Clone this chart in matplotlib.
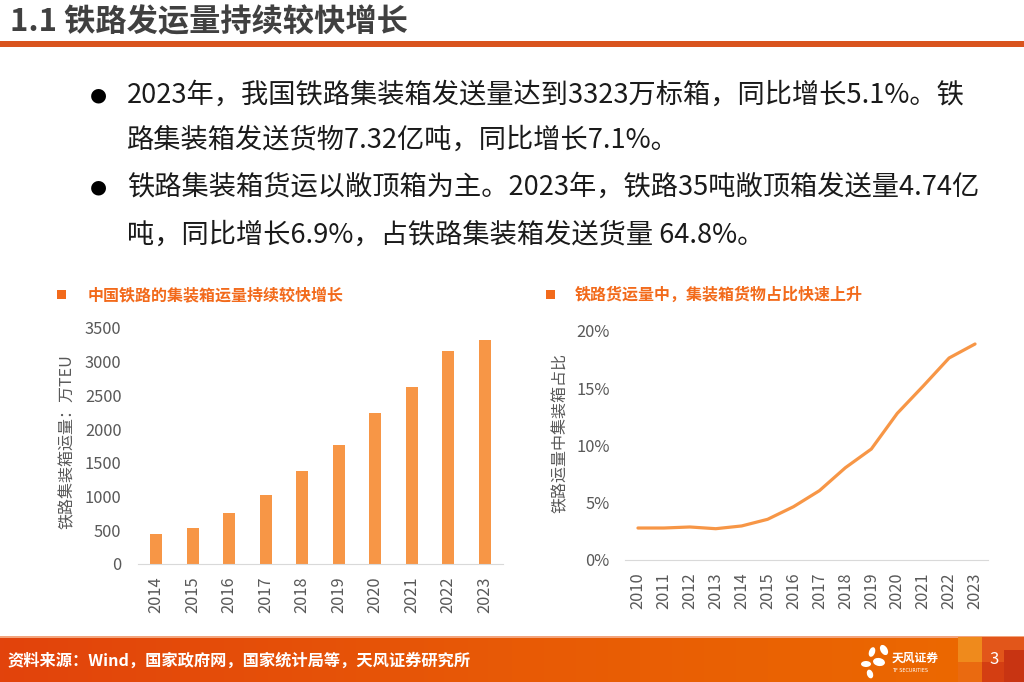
import numpy as np
import matplotlib
matplotlib.use("Agg")
import matplotlib.pyplot as plt
from matplotlib.patches import Rectangle, Ellipse
from matplotlib.colors import LinearSegmentedColormap

plt.rcParams['font.family'] = ['Noto Sans CJK SC', 'DejaVu Sans']

# data
bar_years = ['2014', '2015', '2016', '2017', '2018', '2019', '2020', '2021', '2022', '2023']
teu = [441, 530, 752, 1020, 1376, 1767, 2242, 2628, 3163, 3323]

line_years = ['2010', '2011', '2012', '2013', '2014', '2015', '2016',
              '2017', '2018', '2019', '2020', '2021', '2022', '2023']
share = [2.79, 2.79, 2.88, 2.73, 2.97, 3.55, 4.65, 6.05, 8.05, 9.68, 12.79, 15.17, 17.62, 18.84]

page_title = '1.1 铁路发运量持续较快增长'
bullets = [
    ['2023年，我国铁路集装箱发送量达到3323万标箱，同比增长5.1%。铁',
     '路集装箱发送货物7.32亿吨，同比增长7.1%。'],
    ['铁路集装箱货运以敞顶箱为主。2023年，铁路35吨敞顶箱发送量4.74亿',
     '吨，同比增长6.9%，占铁路集装箱发送货量 64.8%。'],
]
chart1_title = '中国铁路的集装箱运量持续较快增长'
chart2_title = '铁路货运量中，集装箱货物占比快速上升'
chart1_ylabel = '铁路集装箱运量：万TEU'
chart2_ylabel = '铁路运量中集装箱占比'
source = '资料来源：Wind，国家政府网，国家统计局等，天风证券研究所'

W, H = 1024, 682
ORANGE = '#F79646'
TITLE_ORANGE = '#F26A1B'
GREY = '#595959'

fig = plt.figure(figsize=(W / 100, H / 100), dpi=100)

def box(l, t, r, b):
    return [l / W, 1 - b / H, (r - l) / W, (b - t) / H]

# background layer in pixel coords
bg = fig.add_axes([0, 0, 1, 1], zorder=0)
bg.set_xlim(0, W)
bg.set_ylim(H, 0)
bg.axis('off')

bg.text(10, 22, page_title, fontsize=22.5, fontweight='bold', color='#404040',
        va='center', ha='left')
bg.add_patch(Rectangle((0, 41), W, 5.5, color='#D9541E', lw=0))

line_y = [95, 140, 187, 235]
k = 0
for para in bullets:
    bg.text(98, line_y[k], '●', fontsize=14, color='black', va='center', ha='center',
            family=['DejaVu Sans'])
    for ln in para:
        bg.text(127, line_y[k], ln, fontsize=19.6, color='#1a1a1a', va='center', ha='left')
        k += 1

# chart titles
bg.add_patch(Rectangle((57, 290), 9, 9, color=TITLE_ORANGE, lw=0))
bg.text(88, 295, chart1_title, fontsize=11.5, color=TITLE_ORANGE, va='center', ha='left',
        fontweight='bold')
bg.add_patch(Rectangle((546, 290), 9, 9, color=TITLE_ORANGE, lw=0))
bg.text(575, 295, chart2_title, fontsize=11.5, color=TITLE_ORANGE, va='center', ha='left',
        fontweight='bold')

bg.text(67, 442, chart1_ylabel, fontsize=11.5, color=GREY, rotation=90,
        va='center', ha='center')
bg.text(560, 433, chart2_ylabel, fontsize=11.5, color=GREY, rotation=90,
        va='center', ha='center')

# footer band
grad = np.linspace(0, 1, 256).reshape(1, -1)
cmap = LinearSegmentedColormap.from_list('foot', ['#E2430C', '#E85A06', '#EC6A00'])
bg.imshow(grad, extent=(0, W, H, 636), aspect='auto', cmap=cmap, zorder=1)
bg.add_patch(Rectangle((0, 636), W, 1.5, color='#F2A57E', lw=0, zorder=2))
bg.add_patch(Rectangle((958, 637), 24, 25, color='#EF8A1C', lw=0, zorder=2))
bg.add_patch(Rectangle((982, 637), 42, 25, color='#E2561A', lw=0, zorder=2))
bg.add_patch(Rectangle((958, 662), 24, 20, color='#EA6A10', lw=0, zorder=2))
bg.add_patch(Rectangle((982, 662), 42, 20, color='#D43E12', lw=0, zorder=2))
bg.add_patch(Rectangle((1004, 650), 20, 32, color='#C83412', lw=0, zorder=2))
bg.text(8, 661, source, fontsize=11.7, color='white', fontweight='bold',
        va='center', ha='left', zorder=3)
bg.text(994, 660, '3', fontsize=12, color='white', va='center', ha='center', zorder=3)

# logo
for (cx, cy, w, h, a) in [(872, 652, 6, 10, 20), (884, 650, 7, 11, -30),
                          (866, 664, 10, 6, 0), (879, 662, 12, 8, 10),
                          (870, 674, 6, 9, -20)]:
    bg.add_patch(Ellipse((cx, cy), w, h, angle=a, color='white', lw=0, zorder=3))
bg.text(892, 658, '天风证券', fontsize=8.5, color='white', fontweight='bold',
        va='center', ha='left', zorder=3)
bg.text(892, 670, 'TF SECURITIES', fontsize=3.5, color='white',
        va='center', ha='left', zorder=3, family=['DejaVu Sans'])

# left chart: bars
ax1 = fig.add_axes(box(138, 328, 503, 564), zorder=2)
ax1.patch.set_alpha(0)
x1 = np.arange(len(bar_years))
ax1.bar(x1, teu, width=0.32, color=ORANGE)
ax1.set_xlim(-0.5, len(bar_years) - 0.5)
ax1.set_ylim(0, 3500)
ax1.set_yticks(np.arange(0, 3501, 500))
ax1.set_xticks(x1)
ax1.set_xticklabels(bar_years, rotation=90)
for s in ['top', 'right', 'left']:
    ax1.spines[s].set_visible(False)
ax1.spines['bottom'].set_color('#D9D9D9')
ax1.tick_params(axis='y', length=0, pad=12, labelsize=11.8, labelcolor=GREY)
ax1.tick_params(axis='x', length=0, pad=9, labelsize=11.8, labelcolor=GREY)

# right chart: line
ax2 = fig.add_axes(box(625, 330.7, 988, 560), zorder=2)
ax2.patch.set_alpha(0)
x2 = np.arange(len(line_years))
ax2.plot(x2, share, color=ORANGE, lw=2.3, solid_capstyle='round')
ax2.set_xlim(-0.5, len(line_years) - 0.5)
ax2.set_ylim(0, 20)
ax2.set_yticks([0, 5, 10, 15, 20])
ax2.set_yticklabels(['0%', '5%', '10%', '15%', '20%'])
ax2.set_xticks(x2)
ax2.set_xticklabels(line_years, rotation=90)
for s in ['top', 'right', 'left']:
    ax2.spines[s].set_visible(False)
ax2.spines['bottom'].set_color('#D9D9D9')
ax2.tick_params(axis='y', length=0, pad=11, labelsize=11.8, labelcolor=GREY)
ax2.tick_params(axis='x', length=0, pad=9, labelsize=11.8, labelcolor=GREY)

fig.savefig('out.png', dpi=100)
